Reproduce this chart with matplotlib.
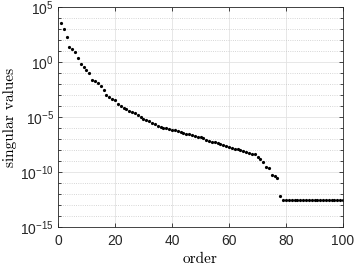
import numpy as np
import matplotlib.pyplot as plt
from matplotlib.ticker import LogLocator, FixedLocator, NullFormatter

# log10 of the singular values (order 1..100)
log_sv = [3.52, 3.0, 2.30, 1.39, 1.15, 0.91, 0.39, -0.18, -0.45, -0.73,
          -1.03, -1.64, -1.75, -1.94, -2.18, -2.55, -3.0, -3.15, -3.34, -3.48,
          -3.79, -4.0, -4.18, -4.3, -4.43, -4.55, -4.66, -4.79, -5.0, -5.18,
          -5.27, -5.39, -5.52, -5.64, -5.79, -5.88, -5.97, -6.03, -6.09, -6.15,
          -6.21, -6.27, -6.34, -6.42, -6.50, -6.58, -6.64, -6.71, -6.79, -6.86,
          -6.95, -7.05, -7.15, -7.23, -7.31, -7.39, -7.47, -7.55, -7.63, -7.73,
          -7.81, -7.88, -7.95, -8.03, -8.11, -8.18, -8.25, -8.32, -8.39, -8.61,
          -8.86, -9.12, -9.50, -9.64, -10.27, -10.39, -10.57, -12.14] + [-12.57] * 22
order = np.arange(1, len(log_sv) + 1)
sv = 10.0 ** np.array(log_sv)

xticks = [0, 20, 40, 60, 80, 100]
yticks = [1e-15, 1e-10, 1e-5, 1e0, 1e5]
ylabels = ['$10^{-15}$', '$10^{-10}$', '$10^{-5}$', '$10^{0}$', '$10^{5}$']

plt.rcParams['font.family'] = ['Liberation Sans', 'DejaVu Sans']
plt.rcParams['mathtext.fontset'] = 'custom'
plt.rcParams['mathtext.rm'] = 'Liberation Sans'
plt.rcParams['mathtext.default'] = 'regular'

fig = plt.figure(figsize=(3.54, 2.67), dpi=100)
ax = fig.add_axes([0.1638, 0.1498, 0.8052, 0.824])

ax.semilogy(order, sv, 'o', color='black', markersize=2.3, markeredgewidth=0)

ax.set_xlim(0, 100)
ax.set_ylim(1e-15, 1e5)
ax.set_xticks(xticks)
ax.yaxis.set_major_locator(FixedLocator(yticks))
ax.set_yticklabels(ylabels)
ax.yaxis.set_minor_locator(LogLocator(base=10, subs=[1.0], numticks=30))
ax.yaxis.set_minor_formatter(NullFormatter())

ax.grid(True, which='major', color='#e3e3e3', linestyle='-', linewidth=0.6)
ax.grid(True, which='minor', axis='y', color='#c8c8c8', linestyle=':', linewidth=0.6)
ax.set_axisbelow(True)

ax.tick_params(which='both', direction='in', top=True, right=True,
               labelsize=10, colors='#262626', width=0.6)
ax.tick_params(which='major', length=3)
ax.tick_params(which='minor', length=2)
ax.tick_params(axis='x', pad=5)
ax.tick_params(axis='y', pad=3)
for s in ax.spines.values():
    s.set_color('#262626')
    s.set_linewidth(0.6)

ax.set_xlabel('order', fontfamily='cmr10', fontsize=11, labelpad=3)
ax.set_ylabel('singular values', fontfamily='cmr10', fontsize=11, labelpad=2)

fig.savefig('out.png', dpi=100)
